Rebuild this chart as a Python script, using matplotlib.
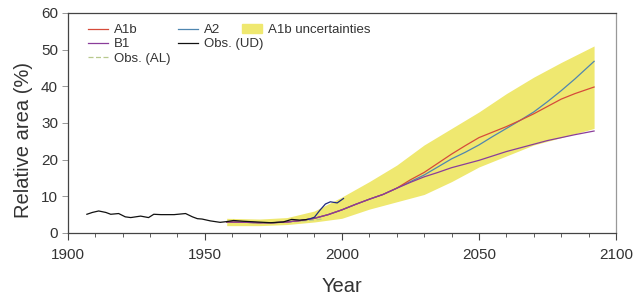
import matplotlib
matplotlib.use("Agg")
import matplotlib.pyplot as plt
from matplotlib.lines import Line2D
from matplotlib.patches import Patch

plt.rcParams["font.family"] = ["Liberation Sans", "DejaVu Sans"]

# observations (UD)
obs_ud_years = [1907, 1909, 1911.3, 1913.9, 1915.7, 1918.6, 1921, 1923, 1926.6, 1929.5,
                1931.4, 1934, 1938.8, 1943, 1945.5, 1947.3, 1949, 1952, 1955.6, 1958,
                1960.5, 1964, 1969, 1974, 1978.6, 1981.7, 1984.7, 1987.7, 1990, 1992,
                1994, 1995.8, 1998.3, 2000.6]
obs_ud_vals = [5.1, 5.6, 6.0, 5.6, 5.1, 5.3, 4.4, 4.2, 4.6, 4.2,
               5.1, 5.0, 5.0, 5.3, 4.4, 3.9, 3.8, 3.3, 2.9, 3.1,
               3.4, 3.2, 3.0, 2.8, 3.0, 3.7, 3.5, 3.7, 4.3, 6.2,
               7.9, 8.5, 8.2, 9.4]

# observations (AL)
obs_al_years = [1958, 1963, 1968, 1973, 1978, 1983, 1988, 1993]
obs_al_vals = [3.2, 3.0, 2.8, 2.7, 2.9, 3.1, 3.4, 3.8]

# model scenarios
model_years = [1958, 1965, 1970, 1975, 1980, 1985, 1990, 1995, 2000, 2005, 2010, 2015,
               2020, 2025, 2030, 2035, 2040, 2045, 2050, 2055, 2060, 2065, 2070, 2075,
               2080, 2085, 2092]
common = [3.0, 2.9, 2.8, 2.8, 3.0, 3.4, 4.0, 5.0, 6.3, 7.8, 9.2, 10.5, 12.2]
a1b = common + [14.5, 16.5, 19.0, 21.5, 23.8, 26.0, 27.5, 29.0, 30.7, 32.5, 34.5, 36.5, 38.0, 39.8]
a2 = common + [14.0, 15.8, 18.0, 20.2, 22.0, 24.0, 26.3, 28.5, 30.7, 33.0, 35.8, 38.8, 42.0, 46.8]
b1 = common + [13.8, 15.3, 16.5, 17.8, 18.8, 19.8, 21.0, 22.2, 23.2, 24.2, 25.2, 26.0, 26.8, 27.8]

# A1b uncertainty band
band_years = [1958, 1970, 1980, 1990, 2000, 2010, 2020, 2030, 2040, 2050, 2060, 2070, 2080, 2092]
band_low = [2.0, 2.0, 2.3, 3.0, 4.0, 6.5, 8.5, 10.5, 14.0, 18.0, 21.0, 24.0, 26.0, 28.5]
band_high = [4.0, 3.8, 4.2, 6.0, 9.8, 14.0, 18.5, 24.0, 28.5, 33.0, 38.0, 42.5, 46.5, 51.0]

c_a1b = "#d64b3a"
c_a2 = "#4f86b0"
c_b1 = "#8a3d9a"
c_band = "#efe870"
c_al = "#b8c98e"
c_text = "#333333"

fig = plt.figure(figsize=(6.35, 3.01), dpi=100)
ax = fig.add_axes([0.1066, 0.226, 0.8635, 0.731])

ax.fill_between(band_years, band_low, band_high, color=c_band, lw=0)
ax.plot(obs_al_years, obs_al_vals, color=c_al, lw=0.9, ls=(0, (4, 2)))
ax.plot(model_years, a2, color=c_a2, lw=0.9)
ax.plot(model_years, a1b, color=c_a1b, lw=0.9)
ax.plot(model_years, b1, color=c_b1, lw=0.9)
ax.plot(obs_ud_years[:28], obs_ud_vals[:28], color="#111111", lw=0.9)
ax.plot(obs_ud_years[27:], obs_ud_vals[27:], color="#1f2a80", lw=0.9)

ax.set_xlim(1900, 2100)
ax.set_ylim(0, 60)
ax.set_xticks([1900, 1950, 2000, 2050, 2100])
ax.set_xticks(range(1900, 2101, 10), minor=True)
ax.set_yticks(range(0, 61, 10))
ax.tick_params(axis="x", which="major", length=5, width=0.8, pad=6,
               labelsize=11, colors="#444444", labelcolor=c_text)
ax.tick_params(axis="x", which="minor", length=3, width=0.6, colors="#444444")
ax.tick_params(axis="y", length=4, width=0.6, pad=3, labelsize=11,
               colors="#888888", labelcolor=c_text)
for s in ["left", "bottom", "top"]:
    ax.spines[s].set_color("#444444")
    ax.spines[s].set_linewidth(0.9)
ax.spines["right"].set_color("#999999")
ax.spines["right"].set_linewidth(0.9)

ax.set_xlabel("Year", fontsize=14.5, color=c_text)
ax.set_ylabel("Relative area (%)", fontsize=14.5, color=c_text)
ax.yaxis.set_label_coords(-0.064, 0.423)
ax.xaxis.set_label_coords(0.5, -0.2)

leg_kw = dict(frameon=False, fontsize=9.5, borderpad=0, borderaxespad=0,
              handlelength=1.5, handletextpad=0.5, labelspacing=0.15,
              loc="upper left", labelcolor=c_text)
h1 = [Line2D([], [], color=c_a1b, lw=0.9), Line2D([], [], color=c_b1, lw=0.9),
      Line2D([], [], color=c_al, lw=0.9, ls=(0, (4, 2)))]
leg1 = ax.legend(h1, ["A1b", "B1", "Obs. (AL)"], bbox_to_anchor=(0.037, 0.95), **leg_kw)
ax.add_artist(leg1)
h2 = [Line2D([], [], color=c_a2, lw=0.9), Line2D([], [], color="#111111", lw=0.9)]
leg2 = ax.legend(h2, ["A2", "Obs. (UD)"], bbox_to_anchor=(0.201, 0.95), **leg_kw)
ax.add_artist(leg2)
h3 = [Patch(color=c_band)]
ax.legend(h3, ["A1b uncertainties"], bbox_to_anchor=(0.318, 0.95), **leg_kw)

fig.savefig("out.png", dpi=100)
